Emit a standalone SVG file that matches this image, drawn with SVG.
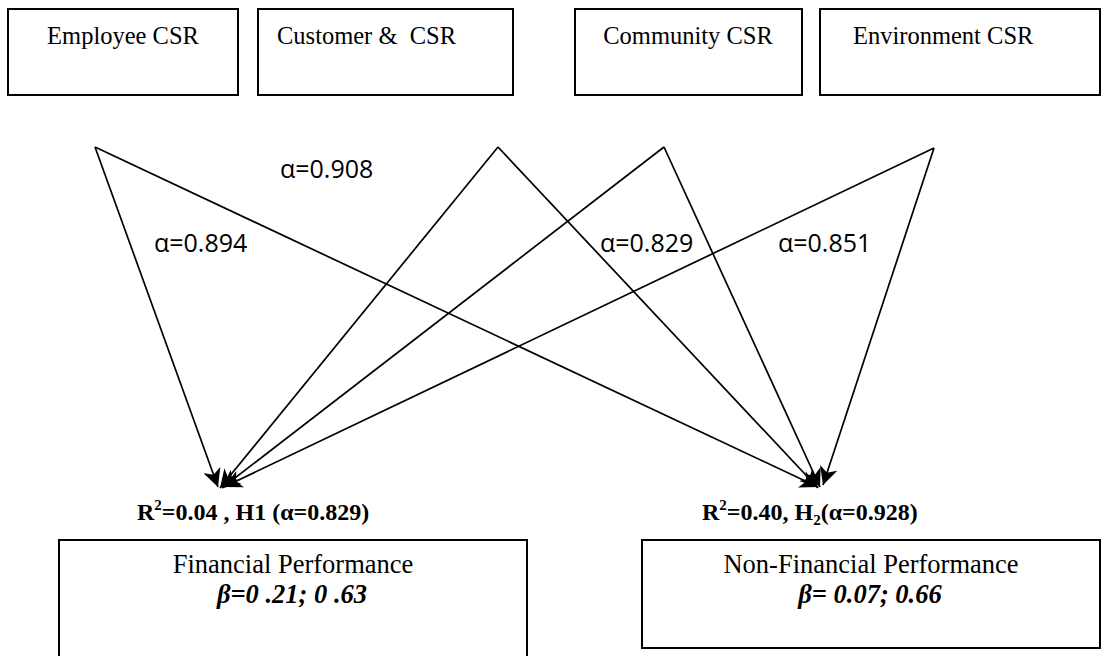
<svg xmlns="http://www.w3.org/2000/svg" width="1104" height="656" viewBox="0 0 1104 656">
<style>
.box{fill:#fff;stroke:#000;stroke-width:2}
.t{font-family:"Liberation Serif","Times New Roman",serif;font-size:24.5px;fill:#000}
.tb{font-family:"Liberation Serif","Times New Roman",serif;font-size:24px;font-weight:bold;fill:#000}
.tp{font-family:"Liberation Serif","Times New Roman",serif;font-size:26.5px;fill:#000}
.tbi{font-family:"Liberation Serif","Times New Roman",serif;font-size:26.5px;font-weight:bold;font-style:italic;fill:#000}
.a{font-family:"Open Sans","Liberation Sans",sans-serif;font-size:25px;fill:#000}
.c{stroke:#000;stroke-width:1.7;fill:none;marker-end:url(#ah)}
</style>
<defs>
<marker id="ah" markerUnits="userSpaceOnUse" markerWidth="20" markerHeight="18" refX="18" refY="9" orient="auto">
<path d="M0,0 L18,9 L0,18 L5,9 Z" fill="#000"/>
</marker>
</defs>
<rect width="1104" height="656" fill="#fff"/>
<g id="employee"><rect class="box" x="8" y="9" width="230" height="86"/><text class="t" x="123" y="44" text-anchor="middle">Employee CSR</text></g>
<g id="customer"><rect class="box" x="258" y="9" width="255" height="86"/><text class="t" x="277" y="44" xml:space="preserve">Customer &amp;  CSR</text></g>
<g id="community"><rect class="box" x="575" y="9" width="227" height="86"/><text class="t" x="688" y="44" text-anchor="middle">Community CSR</text></g>
<g id="environment"><rect class="box" x="820" y="9" width="280" height="86"/><text class="t" x="853" y="44">Environment CSR</text></g>
<g id="connectors">
<line class="c" x1="95" y1="147" x2="218" y2="487"/>
<line class="c" x1="95" y1="147" x2="818" y2="487"/>
<line class="c" x1="498" y1="147" x2="220" y2="488"/>
<line class="c" x1="498" y1="147" x2="818" y2="488"/>
<line class="c" x1="664" y1="147" x2="222" y2="488"/>
<line class="c" x1="664" y1="147" x2="820" y2="487"/>
<line class="c" x1="934" y1="148" x2="224" y2="487"/>
<line class="c" x1="934" y1="148" x2="823" y2="485"/>
</g>
<g id="alpha-labels">
<text class="a" x="280" y="178">α=0.908</text>
<text class="a" x="154" y="252">α=0.894</text>
<text class="a" x="600" y="252">α=0.829</text>
<text class="a" x="778" y="252">α=0.851</text>
</g>
<g id="financial">
<text class="tb" x="137" y="520">R<tspan font-size="15" dy="-10">2</tspan><tspan dy="10">=0.04 , H1 (α=0.829)</tspan></text>
<rect class="box" x="59" y="540" width="468" height="140"/>
<text class="tp" x="293" y="573" text-anchor="middle">Financial Performance</text>
<text class="tbi" x="292" y="603" text-anchor="middle">β=0 .21; 0 .63</text>
</g>
<g id="nonfinancial">
<text class="tb" x="702" y="520">R<tspan font-size="15" dy="-10">2</tspan><tspan dy="10">=0.40, H</tspan><tspan font-size="15" dy="5">2</tspan><tspan dy="-5">(α=0.928)</tspan></text>
<rect class="box" x="642" y="540" width="458" height="108"/>
<text class="tp" x="871" y="573" text-anchor="middle">Non-Financial Performance</text>
<text class="tbi" x="870" y="603" text-anchor="middle">β= 0.07; 0.66</text>
</g>
</svg>
